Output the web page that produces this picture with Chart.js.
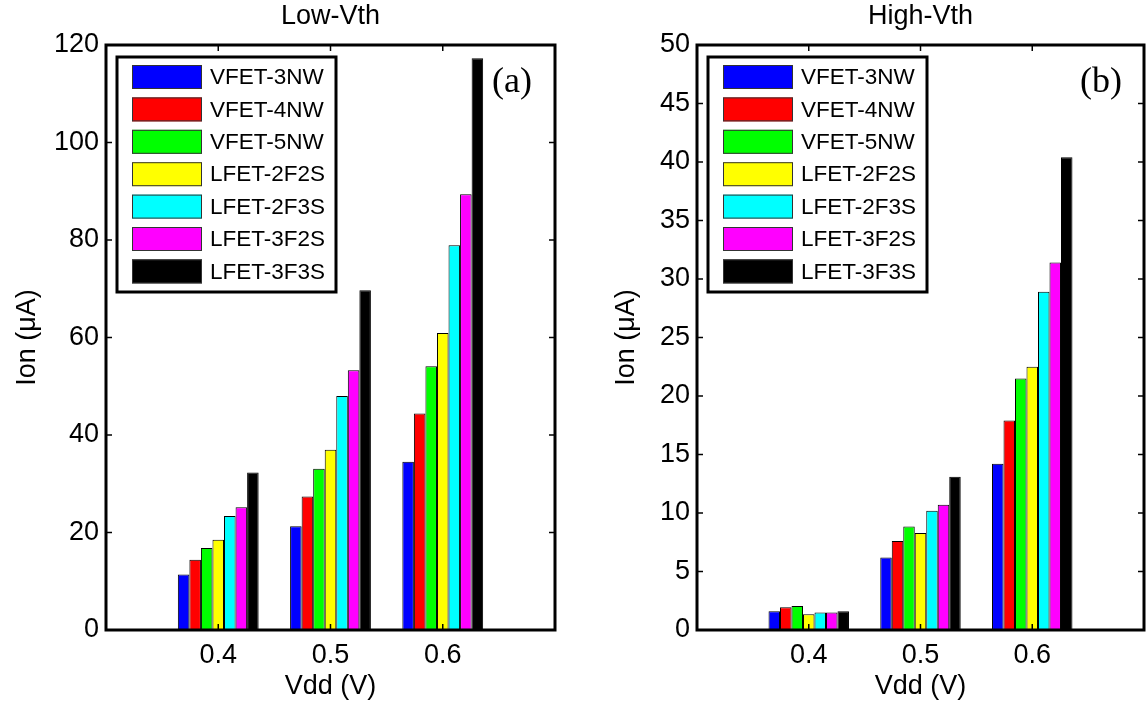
<!DOCTYPE html>
<html>
<head>
<meta charset="utf-8">
<script src="https://cdn.jsdelivr.net/npm/chart.js@4"></script>
<style>
  body { margin: 0; background: #fff; }
  #wrap { position: relative; width: 1146px; height: 704px; }
  canvas { position: absolute; top: 0; }
  #lowChart { left: 0; }
  #highChart { left: 573px; }
</style>
</head>
<body>
<div id="wrap">
  <canvas id="lowChart" width="573" height="704"></canvas>
  <canvas id="highChart" width="573" height="704"></canvas>
</div>
<script>
// ==========================
// Data (Ion in uA)
// ==========================
const vdd = [0.4, 0.5, 0.6];
const deviceNames = ['VFET-3NW', 'VFET-4NW', 'VFET-5NW', 'LFET-2F2S', 'LFET-2F3S', 'LFET-3F2S', 'LFET-3F3S'];
const deviceColors = ['#0000ff', '#ff0000', '#00ff00', '#ffff00', '#00ffff', '#ff00ff', '#000000'];

// Low-Vth
const lowVfet3nw  = [11.4, 21.3, 34.5];
const lowVfet4nw  = [14.4, 27.4, 44.4];
const lowVfet5nw  = [16.8, 33.1, 54.1];
const lowLfet2f2s = [18.5, 37.0, 60.9];
const lowLfet2f3s = [23.4, 48.0, 78.9];
const lowLfet3f2s = [25.2, 53.3, 89.4];
const lowLfet3f3s = [32.3, 69.7, 117.3];

// High-Vth
const highVfet3nw  = [1.6, 6.2, 14.2];
const highVfet4nw  = [1.95, 7.6, 17.9];
const highVfet5nw  = [2.05, 8.85, 21.5];
const highLfet2f2s = [1.35, 8.3, 22.5];
const highLfet2f3s = [1.5, 10.2, 28.9];
const highLfet3f2s = [1.5, 10.7, 31.4];
const highLfet3f3s = [1.6, 13.1, 40.4];

const lowSeries = [lowVfet3nw, lowVfet4nw, lowVfet5nw, lowLfet2f2s, lowLfet2f3s, lowLfet3f2s, lowLfet3f3s];
const highSeries = [highVfet3nw, highVfet4nw, highVfet5nw, highLfet2f2s, highLfet2f3s, highLfet3f2s, highLfet3f3s];

const FONT = "'Liberation Sans', Arial, sans-serif";

// ==========================
// Frame, inward ticks, boxed legend, panel tag
// ==========================
const framePlugin = {
    id: 'frame',
    afterDraw(chart, args, opts) {
        const { ctx, chartArea: a, scales: { x, y } } = chart;
        ctx.save();
        ctx.strokeStyle = '#000';
        ctx.lineWidth = 1.5;
        const seg = (x1, y1, x2, y2) => { ctx.beginPath(); ctx.moveTo(x1, y1); ctx.lineTo(x2, y2); ctx.stroke(); };
        y.ticks.forEach(t => {
            const py = y.getPixelForValue(t.value);
            seg(a.left, py, a.left + 6, py);
            seg(a.right, py, a.right - 6, py);
        });
        x.ticks.forEach(t => {
            const px = x.getPixelForValue(t.value);
            seg(px, a.top, px, a.top + 6);
            seg(px, a.bottom, px, a.bottom - 6);
        });
        ctx.lineWidth = 3;
        ctx.strokeRect(a.left, a.top, a.right - a.left, a.bottom - a.top);

        // legend
        const lx = a.left + 11, ly = a.top + 12;
        ctx.fillStyle = '#fff';
        ctx.fillRect(lx, ly, 219, 235);
        ctx.strokeRect(lx, ly, 219, 235);
        ctx.font = '22.5px ' + FONT;
        ctx.textAlign = 'left';
        ctx.textBaseline = 'middle';
        chart.data.datasets.forEach((ds, i) => {
            const sy = a.top + 20 + i * 32.4;
            ctx.fillStyle = ds.backgroundColor;
            ctx.fillRect(a.left + 26, sy, 70, 24);
            ctx.lineWidth = 1;
            ctx.strokeStyle = '#333';
            ctx.strokeRect(a.left + 26.5, sy + 0.5, 69, 23);
            ctx.fillStyle = '#000';
            ctx.fillText(ds.label, a.left + 104, sy + 13);
        });

        // panel tag
        ctx.font = "36px 'Liberation Serif', 'Times New Roman', serif";
        ctx.textAlign = 'center';
        ctx.fillText(opts.tag, a.right - 43, a.top + 38);
        ctx.restore();
    }
};

// ==========================
// Chart builder
// ==========================
function buildChart(canvasId, title, series, yMax, yStep, yWidth, yTitlePad, rightPad, tag) {
    const datasets = series.map((vals, i) => ({
        label: deviceNames[i],
        data: vals.map((v, j) => ({ x: vdd[j], y: v })),
        backgroundColor: deviceColors[i],
        borderColor: '#000',
        borderWidth: 1,
        categoryPercentage: 0.72,
        barPercentage: 1.0
    }));

    return new Chart(document.getElementById(canvasId), {
        type: 'bar',
        data: { datasets },
        options: {
            responsive: false,
            animation: false,
            layout: { padding: { left: 0, right: rightPad, top: 0, bottom: 0 } },
            plugins: {
                legend: { display: false },
                tooltip: { enabled: false },
                title: {
                    display: true, text: title, fullSize: false, color: '#000',
                    font: { family: FONT, size: 27, weight: 'normal', lineHeight: 1 },
                    padding: { top: 3, bottom: 15 }
                },
                frame: { tag }
            },
            scales: {
                x: {
                    type: 'linear', min: 0.3, max: 0.7, offset: false,
                    grid: { display: false, drawTicks: false },
                    border: { display: false },
                    afterBuildTicks: s => { s.ticks = vdd.map(v => ({ value: v })); },
                    afterFit: s => { s.height = 74; },
                    ticks: {
                        color: '#000', padding: 9,
                        font: { family: FONT, size: 27 },
                        callback: v => v.toFixed(1)
                    },
                    title: {
                        display: true, text: 'Vdd (V)', color: '#000',
                        font: { family: FONT, size: 27 },
                        padding: { top: 0, bottom: 1 }
                    }
                },
                y: {
                    min: 0, max: yMax,
                    grid: { display: false, drawTicks: false },
                    border: { display: false },
                    afterFit: s => { s.width = yWidth; },
                    ticks: {
                        stepSize: yStep, color: '#000', padding: 7,
                        font: { family: FONT, size: 27 }
                    },
                    title: {
                        display: true, text: 'Ion (\u03bcA)', color: '#000',
                        font: { family: FONT, size: 27 },
                        padding: { top: yTitlePad, bottom: 0 }
                    }
                }
            }
        },
        plugins: [framePlugin]
    });
}

window.addEventListener('DOMContentLoaded', () => {
    buildChart('lowChart', 'Low-Vth', lowSeries, 120, 20, 106, 11, 18, '(a)');
    buildChart('highChart', 'High-Vth', highSeries, 50, 5, 124, 37, 2, '(b)');
});
</script>
</body>
</html>
